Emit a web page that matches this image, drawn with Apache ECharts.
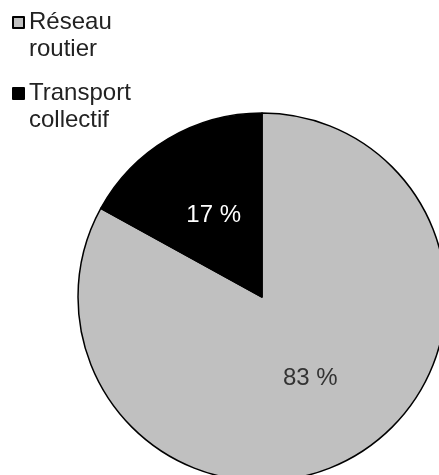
<!DOCTYPE html>
<html>
<head>
<meta charset="utf-8">
<script src="https://cdn.jsdelivr.net/npm/echarts@6/dist/echarts.min.js"></script>
<style>
html,body{margin:0;padding:0;background:#fff;}
#chart{width:439px;height:475px;}
</style>
</head>
<body>
<div id="chart"></div>
<script>
const categories = ['Réseau routier', 'Transport collectif'];
const values = [83, 17];
const sliceColors = ['#c0c0c0', '#000000'];
const labelColors = ['#333333', '#ffffff'];

const chart = echarts.init(document.getElementById('chart'), null, {renderer: 'canvas'});
const FONT = '"Liberation Sans", Arial, Helvetica, sans-serif';
const LH = 27;
const ICON = 11;

function legendFor(name, iconCenterY) {
  return {
    data: [name],
    orient: 'vertical',
    left: 12,
    top: Math.round(iconCenterY - 1.5 * LH),
    padding: 0,
    icon: 'rect',
    itemWidth: ICON,
    itemHeight: ICON,
    itemGap: 5,
    selectedMode: false,
    // leading blank line keeps the icon level with the first text line
    formatter: n => '\n' + n.replace(' ', '\n'),
    textStyle: {
      fontFamily: FONT,
      fontSize: 24,
      color: '#222',
      lineHeight: LH
    }
  };
}

chart.setOption({
  animation: false,
  backgroundColor: '#fff',
  legend: [legendFor(categories[0], 22), legendFor(categories[1], 93)],
  series: [{
    type: 'pie',
    center: [262, 297],
    radius: 184,
    startAngle: 90,
    clockwise: true,
    avoidLabelOverlap: false,
    labelLine: {show: false},
    itemStyle: {borderColor: '#000', borderWidth: 1.5},
    emphasis: {disabled: true},
    data: categories.map((c, i) => ({
      name: c,
      value: values[i],
      itemStyle: {color: sliceColors[i]},
      label: {color: labelColors[i]}
    })),
    label: {
      show: true,
      position: 'inside',
      formatter: p => p.value + ' %',
      fontFamily: FONT,
      fontSize: 24
    }
  }]
});
</script>
</body>
</html>
